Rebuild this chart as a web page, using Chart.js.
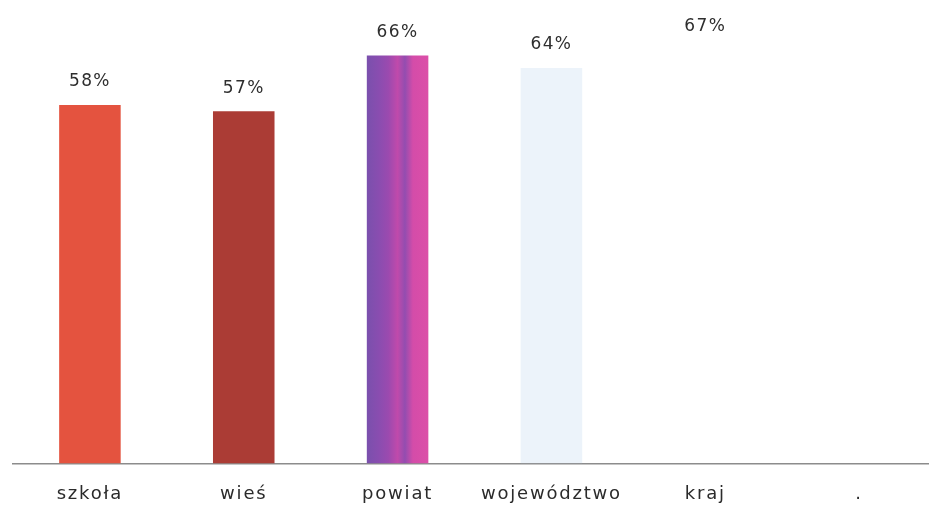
<!DOCTYPE html>
<html>
<head>
<meta charset="utf-8">
<script src="https://cdn.jsdelivr.net/npm/chart.js@4"></script>
<style>
    html, body { margin: 0; padding: 0; background: #fff; overflow: hidden; }
    #wrap { width: 936px; height: 517px; position: relative; }
</style>
</head>
<body>
<div id="wrap"><canvas id="wynik"></canvas></div>
<script>
// ---------------------------------------------------------------------------- D A N E
const kategorie = ['szkoła', 'wieś', 'powiat', 'województwo', 'kraj', '.'];
const wartosci = [58, 57, 66, 64, 67, null];
const kolory = ['#e4533f', '#ab3c35', 'powiat', 'rgba(200,220,242,0.35)', 'rgba(255,255,255,0)', 'rgba(255,255,255,0)'];

// pasek "powiat" - fiolet przechodzący w róż
const kolorSlupka = (c) => {
    const k = kolory[c.dataIndex];
    if (k !== 'powiat') return k;
    const skala = c.chart.scales.x;
    if (!skala || !skala.width) return '#a24cae';
    const srodek = skala.getPixelForTick(c.dataIndex);
    const szer = skala.width / kategorie.length * 0.4;
    const x0 = srodek - szer / 2;
    const g = c.chart.ctx.createLinearGradient(x0, 0, x0 + szer, 0);
    g.addColorStop(0, '#7a50ad');
    g.addColorStop(0.2, '#8a4db0');
    g.addColorStop(0.35, '#9b4aaf');
    g.addColorStop(0.5, '#c04aab');
    g.addColorStop(0.62, '#934db0');
    g.addColorStop(0.75, '#d44ca9');
    g.addColorStop(1, '#dc4fa8');
    return g;
};

// odstępy między literami jak w oryginale
const odstepy = {
    id: 'odstepy',
    beforeDraw: (chart) => { chart.ctx.letterSpacing = '1.8px'; }
};

// etykiety z procentami nad słupkami
const etykiety = {
    id: 'etykiety',
    afterDatasetsDraw: (chart) => {
        const ctx = chart.ctx;
        const meta = chart.getDatasetMeta(0);
        ctx.save();
        ctx.letterSpacing = '1.4px';
        ctx.font = '17px "DejaVu Sans"';
        ctx.fillStyle = '#2e2e2e';
        ctx.textAlign = 'center';
        ctx.textBaseline = 'middle';
        meta.data.forEach((bar, i) => {
            if (wartosci[i] === null) return;
            ctx.fillText(wartosci[i] + '%', bar.x, bar.y - 23);
        });
        ctx.restore();
    }
};

const ctx = document.getElementById('wynik').getContext('2d');
const wykres = new Chart(ctx, {
    type: 'bar',
    data: {
        labels: kategorie,
        datasets: [{
            data: wartosci,
            backgroundColor: kolorSlupka,
            borderWidth: 0,
            barPercentage: 0.4,
            categoryPercentage: 1
        }]
    },
    options: {
        responsive: true,
        maintainAspectRatio: false,
        animation: false,
        layout: {
            padding: { left: 13, right: 0, top: 0, bottom: 0 }
        },
        plugins: {
            legend: { display: false },
            tooltip: { enabled: false }
        },
        scales: {
            x: {
                grid: { display: false },
                border: { color: '#8c8c8c', width: 1.5 },
                ticks: {
                    color: '#2b2b2b',
                    font: { family: 'DejaVu Sans', size: 18 },
                    padding: 12,
                    autoSkip: false,
                    maxRotation: 0
                }
            },
            y: {
                display: false,
                min: 0,
                max: 75
            }
        }
    },
    plugins: [odstepy, etykiety]
});
</script>
</body>
</html>
